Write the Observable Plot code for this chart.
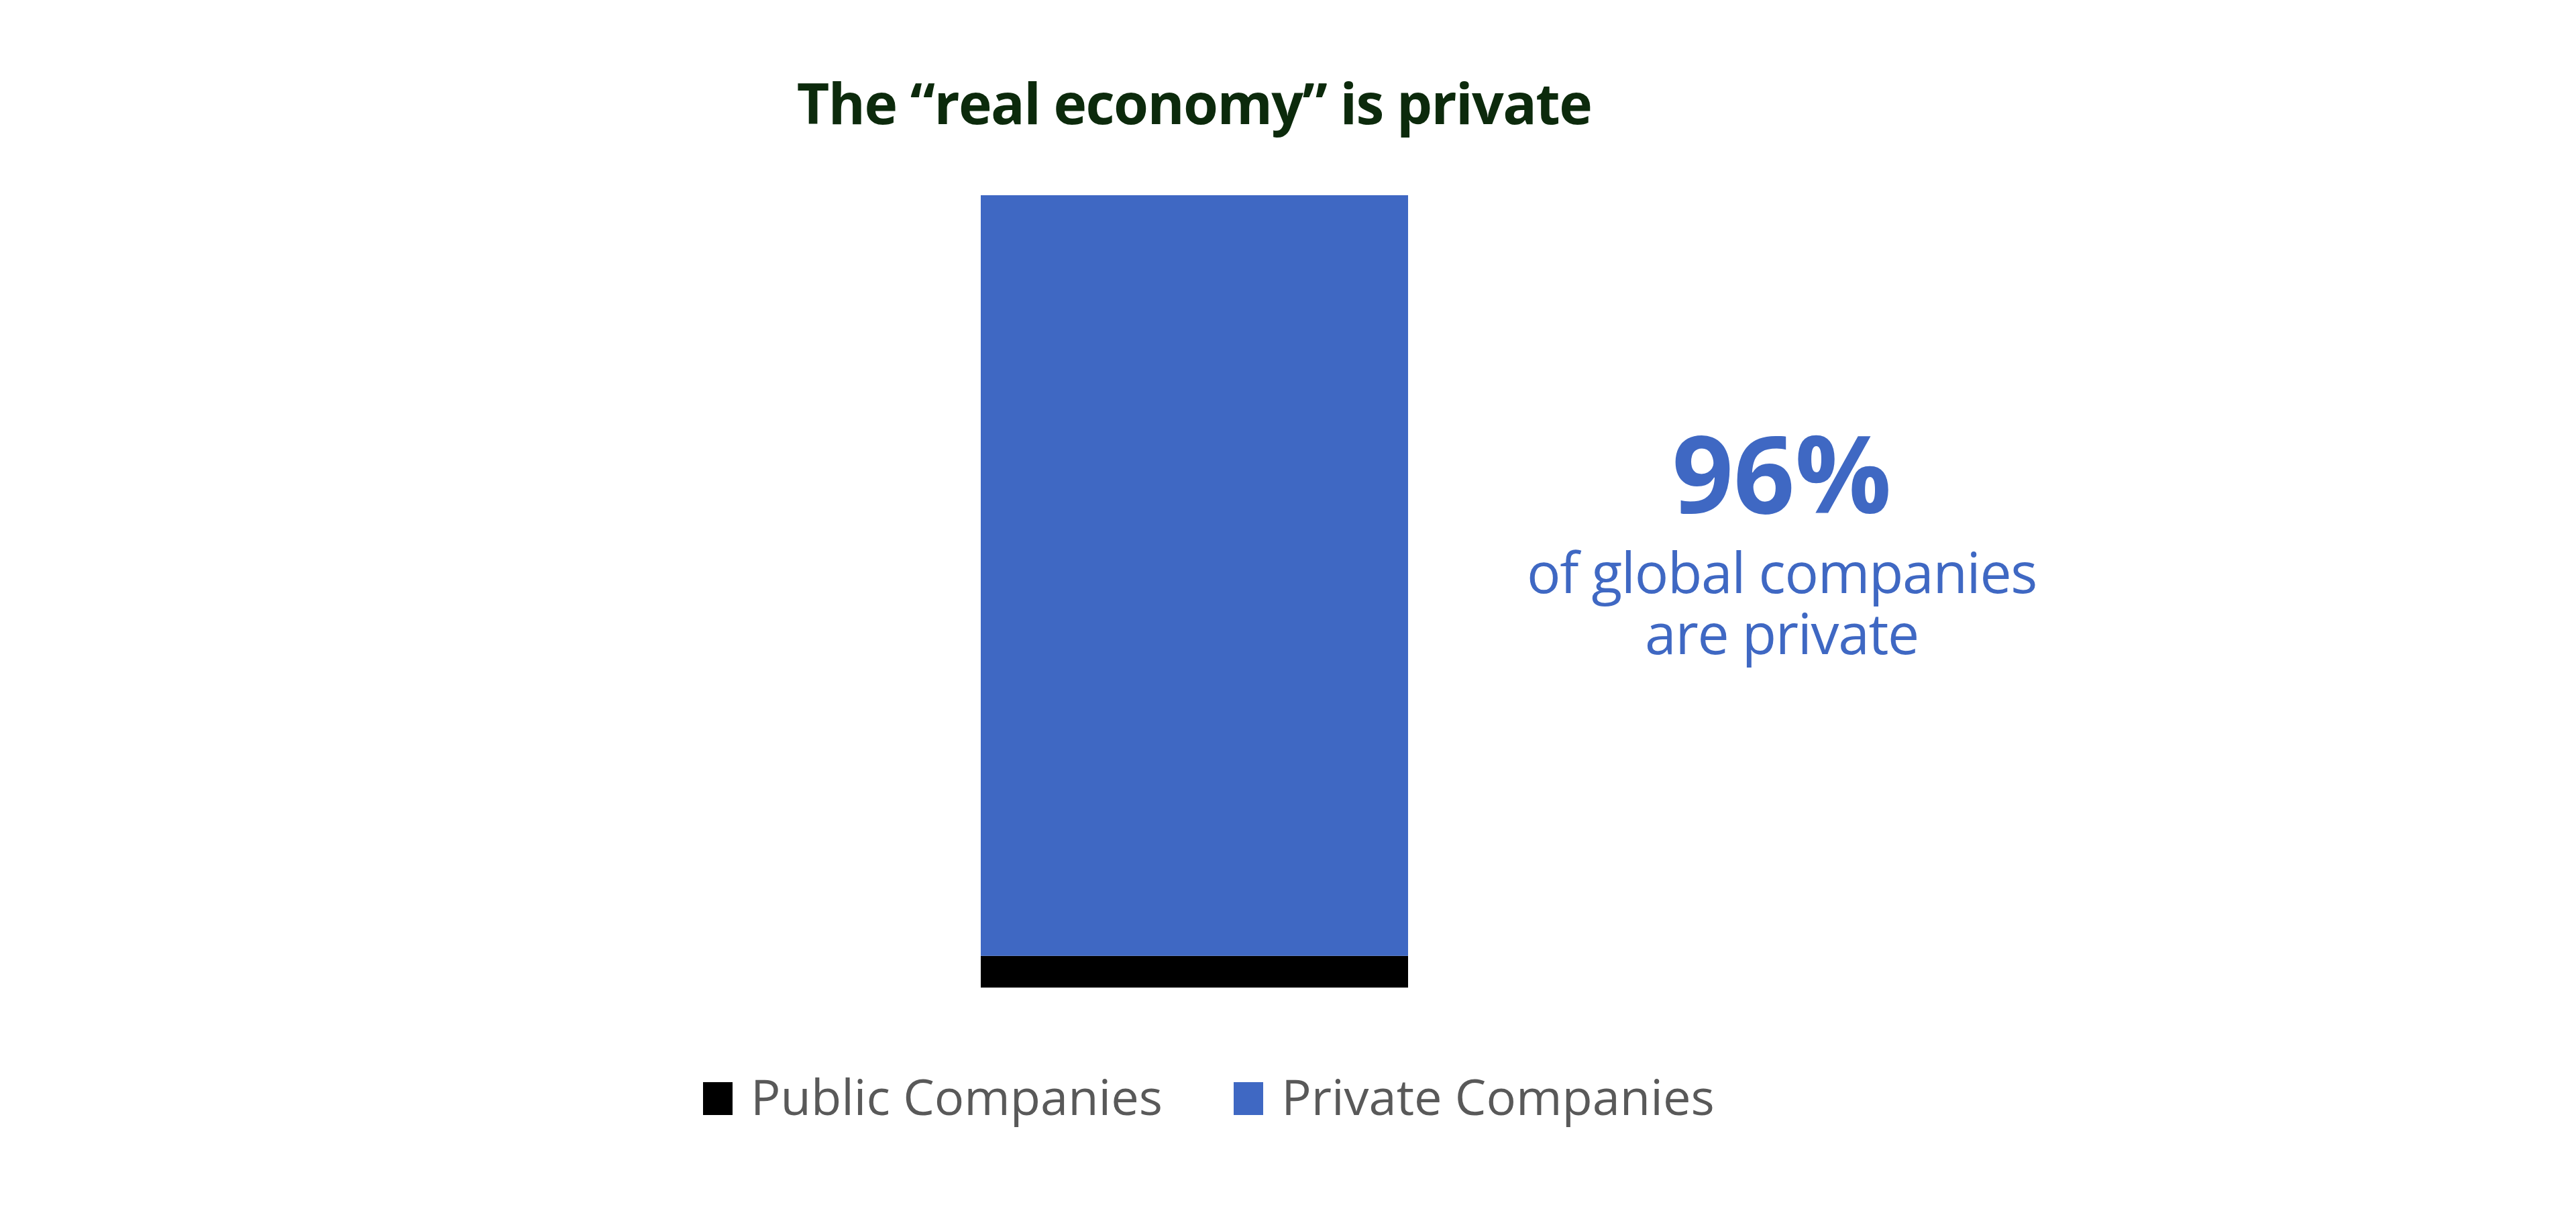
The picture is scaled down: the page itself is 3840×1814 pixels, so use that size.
<!DOCTYPE html>
<html>
<head>
<meta charset="utf-8">
<script src="https://cdn.jsdelivr.net/npm/d3@7"></script>
<script src="https://cdn.jsdelivr.net/npm/@observablehq/plot@0.6"></script>
<style>
  html, body { margin: 0; padding: 0; background: #ffffff; }
  body { width: 3840px; height: 1814px; position: relative; overflow: hidden; font-family: "Open Sans", sans-serif; }
  #title { position: absolute; left: 0; top: 111px; width: 3560px; text-align: center; font-size: 84px; line-height: 84px; font-weight: 700; letter-spacing: -1.6px; color: #0c2a0c; white-space: nowrap; }
  #chart { position: absolute; left: 0; top: 230px; }
  #legend { position: absolute; left: 1048px; top: 1597px; font-size: 74px; line-height: 74px; color: #595959; white-space: nowrap; }
  .item { display: inline-block; margin-right: 106px; }
  .swatch { display: inline-block; width: 44px; height: 49px; margin-right: 27px; vertical-align: baseline; }
</style>
</head>
<body>
<div id="title"></div>
<div id="chart"></div>
<div id="legend"></div>
<script>
// ---- data ----
const titleText = "The \u201creal economy\u201d is private";
const categories = ["Public Companies", "Private Companies"];
const shares = [4, 96];
const colors = ["#000000", "#3f68c3"];
const barLabel = "All companies";
const noteSlot = "note";
const noteLines = ["of global companies", "are private"];

// ---- build ----
const rows = categories.map((c, i) => ({category: c, share: shares[i], group: barLabel}));
const headline = `${shares[categories.indexOf("Private Companies")]}%`;
const blue = colors[1];

document.getElementById("title").textContent = titleText;

const chart = Plot.plot({
  width: 3840,
  height: 1330,
  marginTop: 61,
  marginBottom: 88,
  marginLeft: 0,
  marginRight: 0,
  style: {fontFamily: "Open Sans, sans-serif", background: "transparent"},
  x: {type: "band", domain: [barLabel, noteSlot], range: [1462, 2974], paddingInner: 0.272, paddingOuter: 0, axis: null},
  y: {domain: [0, 100], axis: null},
  color: {domain: categories, range: colors},
  marks: [
    Plot.barY(rows, {x: "group", y: "share", fill: "category"}),
    Plot.text([headline], {x: () => noteSlot, text: d => d, frameAnchor: "middle", lineAnchor: "bottom", dy: -117, fontSize: 160, fontWeight: 700, fill: blue}),
    Plot.text([noteLines.join("\n")], {x: () => noteSlot, text: d => d, frameAnchor: "middle", lineAnchor: "bottom", dy: 93, fontSize: 84, lineHeight: 1.083, fill: blue, style: "letter-spacing:-1.35px"})
  ]
});
document.getElementById("chart").appendChild(chart);
chart.querySelectorAll("text").forEach(t => {
  if (t.textContent.startsWith(noteLines[0])) t.setAttribute("letter-spacing", "-1.35");
});
d3.select(chart).selectAll("g[font-size='84'], g[font-size='84'] text").attr("letter-spacing", "-1.35");

const legend = d3.select("#legend");
categories.forEach((c, i) => {
  const item = legend.append("span").attr("class", "item");
  item.append("span").attr("class", "swatch").style("background", colors[i]);
  item.append("span").text(c);
});
</script>
</body>
</html>
